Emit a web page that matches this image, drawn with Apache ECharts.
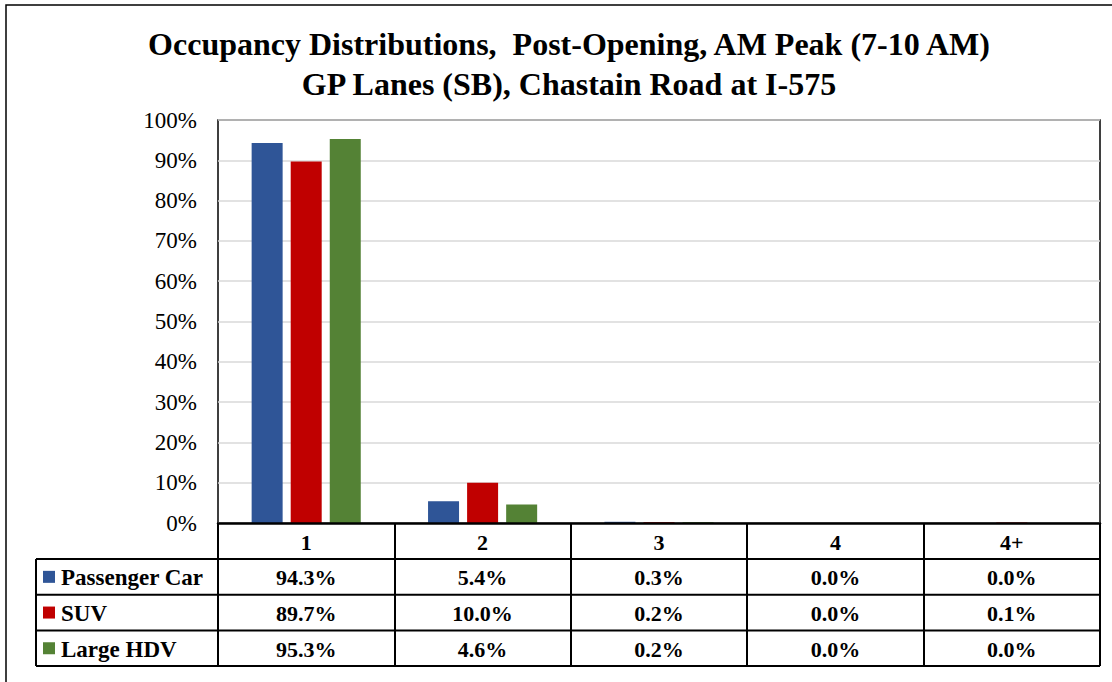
<!DOCTYPE html>
<html>
<head>
<meta charset="utf-8">
<script src="https://cdn.jsdelivr.net/npm/echarts@6/dist/echarts.min.js"></script>
<style>
  html, body { margin: 0; padding: 0; background: #fff; }
  #chart { width: 1112px; height: 682px; }
</style>
</head>
<body>
<div id="chart"></div>
<script>
// Chart text and values
const titleLines = [
  'Occupancy Distributions,  Post-Opening, AM Peak (7-10 AM)',
  'GP Lanes (SB), Chastain Road at I-575'
];
const categories = ['1', '2', '3', '4', '4+'];
const seriesNames = ['Passenger Car', 'SUV', 'Large HDV'];
const passengerCar = [94.3, 5.4, 0.3, 0.0, 0.0];
const suv = [89.7, 10.0, 0.2, 0.0, 0.1];
const largeHdv = [95.3, 4.6, 0.2, 0.0, 0.0];
const yMin = 0, yMax = 100, yStep = 10;

const seriesValues = [passengerCar, suv, largeHdv];
const seriesColors = ['#2F5597', '#C00000', '#548235'];
const serif = '"Liberation Serif", "Times New Roman", serif';

// Data table geometry (below the category axis)
const headerH = 36;
const rowH = 35.7;
const tableLeft = 36;
const tableH = headerH + rowH * seriesNames.length;
const cellFont = 'bold 22px ' + serif;

const chart = echarts.init(document.getElementById('chart'), null, { renderer: 'svg' });

const option = {
  animation: false,
  backgroundColor: '#fff',
  title: {
    text: titleLines.join('\n'),
    left: 564,
    top: 19,
    textAlign: 'center',
    textStyle: {
      fontFamily: serif,
      fontWeight: 'bold',
      fontSize: 32,
      lineHeight: 40,
      color: '#000'
    }
  },
  grid: {
    left: 218,
    right: 12,
    top: 120,
    bottom: 159,
    show: true,
    borderColor: '#000',
    borderWidth: 1.5,
    backgroundColor: 'transparent'
  },
  xAxis: {
    type: 'category',
    data: categories,
    z: 5,
    axisLine: { show: true, lineStyle: { color: '#000', width: 2.5 } },
    axisTick: {
      show: true,
      interval: 0,
      length: tableH,
      lineStyle: { color: '#000', width: 2 }
    },
    axisLabel: {
      interval: 0,
      margin: 8,
      fontFamily: serif,
      fontWeight: 'bold',
      fontSize: 22,
      color: '#000'
    }
  },
  yAxis: {
    type: 'value',
    min: yMin,
    max: yMax,
    interval: yStep,
    axisLine: { show: false },
    axisTick: { show: false },
    axisLabel: {
      formatter: '{value}%',
      margin: 21,
      fontFamily: serif,
      fontSize: 23,
      color: '#000'
    },
    splitLine: { lineStyle: { color: '#d9d9d9', width: 1.5 } }
  },
  series: seriesNames.map((name, i) => ({
    name,
    type: 'bar',
    data: seriesValues[i],
    barWidth: 31,
    barGap: '26%',
    itemStyle: { color: seriesColors[i] }
  }))
};

chart.setOption(option);

// Build the data table from the axis positions
const centers = categories.map((c, i) => chart.convertToPixel({ xAxisIndex: 0 }, i));
const band = centers.length > 1 ? centers[1] - centers[0] : 0;
const tableRight = centers[centers.length - 1] + band / 2;
const yBase = chart.convertToPixel({ yAxisIndex: 0 }, 0);

const graphics = [];
const lineStyle = { stroke: '#000', lineWidth: 2 };

// outer frame
graphics.push({
  type: 'rect', silent: true,
  shape: { x: 6, y: 5, width: 1130, height: 700 },
  style: { fill: 'none', stroke: '#000', lineWidth: 1.5 }
});

// horizontal row lines
for (let r = 0; r <= seriesNames.length; r++) {
  const y = yBase + headerH + r * rowH;
  graphics.push({
    type: 'line', silent: true,
    shape: { x1: tableLeft, y1: y, x2: tableRight, y2: y },
    style: lineStyle
  });
}
// left edge of the label column
graphics.push({
  type: 'line', silent: true,
  shape: { x1: tableLeft, y1: yBase + headerH, x2: tableLeft, y2: yBase + tableH },
  style: lineStyle
});

seriesNames.forEach((name, r) => {
  const cy = yBase + headerH + r * rowH + rowH / 2;
  // legend key
  graphics.push({
    type: 'rect', silent: true,
    shape: { x: 43, y: cy - 6, width: 12, height: 12 },
    style: { fill: seriesColors[r] }
  });
  graphics.push({
    type: 'text', silent: true,
    x: 61, y: cy + 1,
    style: {
      text: name,
      font: 'bold 23px ' + serif,
      fill: '#000',
      align: 'left',
      verticalAlign: 'middle'
    }
  });
  // values
  seriesValues[r].forEach((v, c) => {
    graphics.push({
      type: 'text', silent: true,
      x: centers[c], y: cy + 1,
      style: {
        text: v.toFixed(1) + '%',
        font: cellFont,
        fill: '#000',
        align: 'center',
        verticalAlign: 'middle'
      }
    });
  });
});

chart.setOption({ graphic: { elements: graphics } });
</script>
</body>
</html>
